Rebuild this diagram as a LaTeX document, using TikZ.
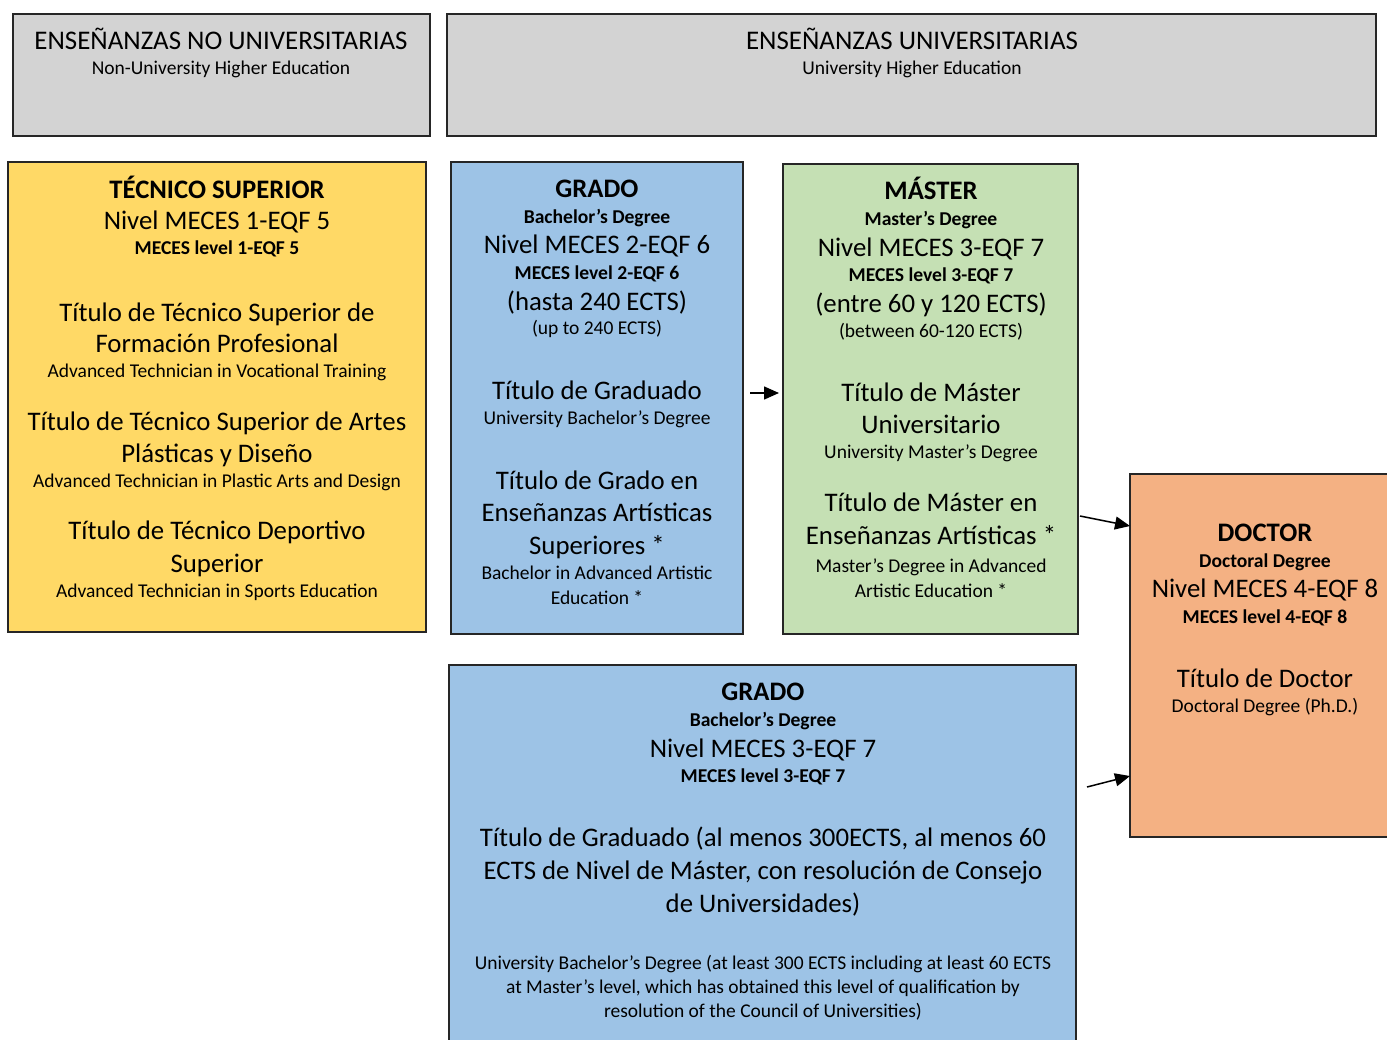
\documentclass[tikz,border=0pt]{standalone}
\usepackage{fontspec}
\setmainfont{Carlito}
\usetikzlibrary{arrows.meta}

\definecolor{grisF}{HTML}{D3D3D3}
\definecolor{amarF}{HTML}{FFD966}
\definecolor{azulF}{HTML}{9DC3E6}
\definecolor{verdeF}{HTML}{C5E0B4}
\definecolor{naranF}{HTML}{F4B183}

\newcommand\fhead{\fontsize{26.9}{30}\selectfont}
\newcommand\fbig{\fontsize{26.8}{30}\selectfont}
\newcommand\fbigb{\fontsize{26.7}{30}\selectfont\bfseries}
\newcommand\fsmall{\fontsize{19.5}{23}\selectfont}
\newcommand\fsmallb{\fontsize{19.6}{23}\selectfont\bfseries}

\tikzset{
  box/.style={draw=black!85, line width=1.6pt, fill=#1, anchor=north west,
    inner sep=0pt, outer sep=0pt},
  txt/.style={anchor=base, inner sep=0pt, text=black},
  arr/.style={line width=1.5pt, -{Triangle[length=15pt,width=13pt]}}
}

\begin{document}
\begin{tikzpicture}[x=1pt,y=-1pt]
  \useasboundingbox (0,0) rectangle (1387,1039);

  %%%%%%%%%%%%%The header boxes%%%%%%%%%%%%%%%%%%%%%%
  \node[box=grisF, minimum width=417pt, minimum height=122pt] (nouni) at (13,14) {};
  \node[box=grisF, minimum width=929pt, minimum height=122pt] (uni) at (447,14) {};

  \node[txt] (nouni1) at (221,49) {\fhead ENSEÑANZAS NO UNIVERSITARIAS};
  \node[txt] (nouni2) at (221,74) {\fsmall Non-University Higher Education};
  \node[txt] (uni1) at (912,49) {\fhead ENSEÑANZAS UNIVERSITARIAS};
  \node[txt] (uni2) at (912,74) {\fsmall University Higher Education};

  %%%%%%%%%%%%%The degree boxes%%%%%%%%%%%%%%%%%%%%%%
  \node[box=amarF, minimum width=418pt, minimum height=470pt] (tecnico) at (8,162) {};
  \node[box=azulF, minimum width=292pt, minimum height=472pt] (grado) at (451,162) {};
  \node[box=verdeF, minimum width=295pt, minimum height=470pt] (master) at (783,164) {};
  \node[box=naranF, minimum width=270pt, minimum height=363pt] (doctor) at (1130,474) {};
  \node[box=azulF, minimum width=627pt, minimum height=400pt] (gradosup) at (449,665) {};

  %%%%%%%%%%%%%Tecnico superior%%%%%%%%%%%%%%%%%%%%%%
  \node[txt] (tec1) at (217,198) {\fbigb TÉCNICO SUPERIOR};
  \node[txt] (tec2) at (217,229) {\fbig Nivel MECES 1-EQF 5};
  \node[txt] (tec3) at (217,254) {\fsmallb MECES level 1-EQF 5};
  \node[txt] (tec4) at (217,321) {\fbig Título de Técnico Superior de};
  \node[txt] (tec5) at (217,352) {\fbig Formación Profesional};
  \node[txt] (tec6) at (217,377) {\fsmall Advanced Technician in Vocational Training};
  \node[txt] (tec7) at (217,430) {\fbig Título de Técnico Superior de Artes};
  \node[txt] (tec8) at (217,462) {\fbig Plásticas y Diseño};
  \node[txt] (tec9) at (217,487) {\fsmall Advanced Technician in Plastic Arts and Design};
  \node[txt] (tec10) at (217,539) {\fbig Título de Técnico Deportivo};
  \node[txt] (tec11) at (217,572) {\fbig Superior};
  \node[txt] (tec12) at (217,597) {\fsmall Advanced Technician in Sports Education};

  %%%%%%%%%%%%%Grado%%%%%%%%%%%%%%%%%%%%%%
  \node[txt] (gra1) at (597,197) {\fbigb GRADO};
  \node[txt] (gra2) at (597,223) {\fsmallb Bachelor’s Degree};
  \node[txt] (gra3) at (597,253) {\fbig Nivel MECES 2-EQF 6};
  \node[txt] (gra4) at (597,279) {\fsmallb MECES level 2-EQF 6};
  \node[txt] (gra5) at (597,310) {\fbig (hasta 240 ECTS)};
  \node[txt] (gra6) at (597,334) {\fsmall (up to 240 ECTS)};
  \node[txt] (gra7) at (597,399) {\fbig Título de Graduado};
  \node[txt] (gra8) at (597,424) {\fsmall University Bachelor’s Degree};
  \node[txt] (gra9) at (597,489) {\fbig Título de Grado en};
  \node[txt] (gra10) at (597,521) {\fbig Enseñanzas Artísticas};
  \node[txt] (gra11) at (597,554) {\fbig Superiores *};
  \node[txt] (gra12) at (597,579) {\fsmall Bachelor in Advanced Artistic};
  \node[txt] (gra13) at (597,604) {\fsmall Education *};

  %%%%%%%%%%%%%Master%%%%%%%%%%%%%%%%%%%%%%
  \node[txt] (mas1) at (931,199) {\fbigb MÁSTER};
  \node[txt] (mas2) at (931,225) {\fsmallb Master’s Degree};
  \node[txt] (mas3) at (931,256) {\fbig Nivel MECES 3-EQF 7};
  \node[txt] (mas4) at (931,281) {\fsmallb MECES level 3-EQF 7};
  \node[txt] (mas5) at (931,312) {\fbig (entre 60 y 120 ECTS)};
  \node[txt] (mas6) at (931,337) {\fsmall (between 60-120 ECTS)};
  \node[txt] (mas7) at (931,401) {\fbig Título de Máster};
  \node[txt] (mas8) at (931,433) {\fbig Universitario};
  \node[txt] (mas9) at (931,458) {\fsmall University Master’s Degree};
  \node[txt] (mas10) at (931,511) {\fbig Título de Máster en};
  \node[txt] (mas11) at (931,544) {\fbig Enseñanzas Artísticas *};
  \node[txt] (mas12) at (931,572) {\fsmall Master’s Degree in Advanced};
  \node[txt] (mas13) at (931,597) {\fsmall Artistic Education *};

  %%%%%%%%%%%%%Doctor%%%%%%%%%%%%%%%%%%%%%%
  \node[txt] (doc1) at (1265,541) {\fbigb DOCTOR};
  \node[txt] (doc2) at (1265,567) {\fsmallb Doctoral Degree};
  \node[txt] (doc3) at (1265,597) {\fbig Nivel MECES 4-EQF 8};
  \node[txt] (doc4) at (1265,623) {\fsmallb MECES level 4-EQF 8};
  \node[txt] (doc5) at (1265,687) {\fbig Título de Doctor};
  \node[txt] (doc6) at (1265,712) {\fsmall Doctoral Degree (Ph.D.)};

  %%%%%%%%%%%%%Grado de nivel master%%%%%%%%%%%%%%%%%%%%%%
  \node[txt] (gsup1) at (763,700) {\fbigb GRADO};
  \node[txt] (gsup2) at (763,726) {\fsmallb Bachelor’s Degree};
  \node[txt] (gsup3) at (763,757) {\fbig Nivel MECES 3-EQF 7};
  \node[txt] (gsup4) at (763,782) {\fsmallb MECES level 3-EQF 7};
  \node[txt] (gsup5) at (763,846) {\fbig Título de Graduado (al menos 300ECTS, al menos 60};
  \node[txt] (gsup6) at (763,879) {\fbig ECTS de Nivel de Máster, con resolución de Consejo};
  \node[txt] (gsup7) at (763,912) {\fbig de Universidades)};
  \node[txt] (gsup8) at (763,969) {\fsmall University Bachelor’s Degree (at least 300 ECTS including at least 60 ECTS};
  \node[txt] (gsup9) at (763,993) {\fsmall at Master’s level, which has obtained this level of qualification by};
  \node[txt] (gsup10) at (763,1017) {\fsmall resolution of the Council of Universities)};

  %%%%%%%%%%%%%The arrows%%%%%%%%%%%%%%%%%%%%%%
  \coordinate (g2m) at (750,393);
  \coordinate (m2d) at (1080,516);
  \coordinate (s2d) at (1087,787);
  \draw[arr, shorten >=4pt] (g2m) -- (master.west |- g2m);
  \draw[arr] (m2d) -- (doctor.west |- 0,526);
  \draw[arr] (s2d) -- (doctor.west |- 0,776);
\end{tikzpicture}
\end{document}
